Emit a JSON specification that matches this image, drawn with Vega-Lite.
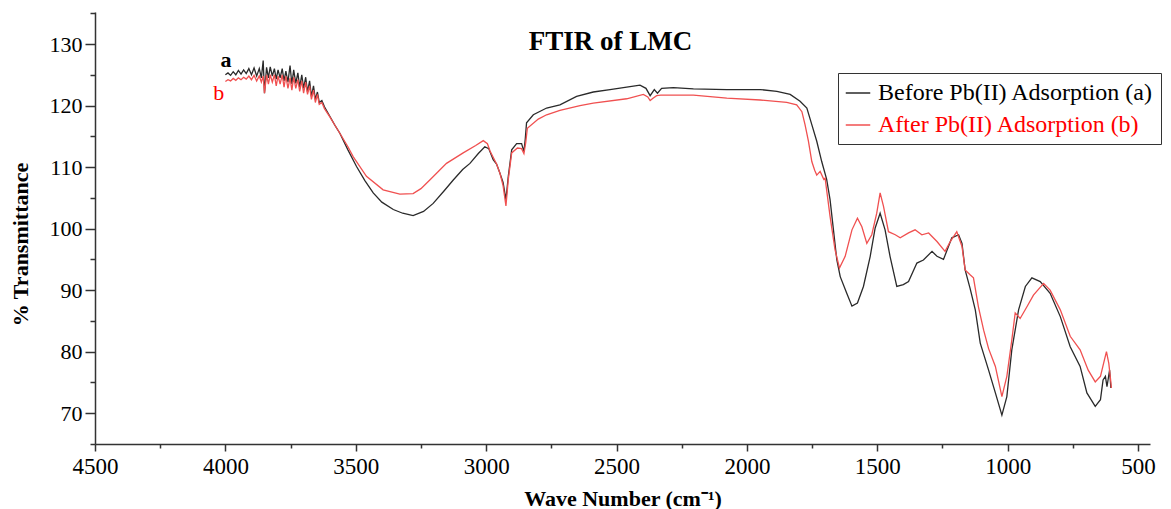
{
  "$schema": "https://vega.github.io/schema/vega-lite/v6.json",
  "width": 1055,
  "height": 432,
  "autosize": {"type": "none"},
  "padding": {"left": 95, "top": 12, "right": 21, "bottom": 65},
  "background": "white",
  "config": {"view": {"stroke": null}, "font": "Liberation Serif"},
  "title": {"text": "FTIR of LMC", "fontSize": 27, "font": "Liberation Serif", "fontWeight": "bold", "color": "black", "offset": -44, "dx": -12},
  "resolve": {"axis": {"x": "independent", "y": "independent"}},
  "datasets": {
    "spectra": [
      {"s":"a","wn":4000,"t":125.0},{"s":"a","wn":3990,"t":125.3},{"s":"a","wn":3980,"t":124.9},{"s":"a","wn":3970,"t":125.5},{"s":"a","wn":3960,"t":125.0},{"s":"a","wn":3950,"t":125.7},{"s":"a","wn":3940,"t":125.1},{"s":"a","wn":3930,"t":125.8},{"s":"a","wn":3920,"t":125.2},{"s":"a","wn":3910,"t":126.0},{"s":"a","wn":3900,"t":125.0},{"s":"a","wn":3890,"t":126.1},{"s":"a","wn":3880,"t":124.8},{"s":"a","wn":3870,"t":126.0},{"s":"a","wn":3862,"t":124.5},{"s":"a","wn":3855,"t":127.3},{"s":"a","wn":3850,"t":122.0},{"s":"a","wn":3842,"t":126.2},{"s":"a","wn":3835,"t":124.5},{"s":"a","wn":3828,"t":126.3},{"s":"a","wn":3820,"t":124.8},{"s":"a","wn":3812,"t":126.0},{"s":"a","wn":3805,"t":124.3},{"s":"a","wn":3798,"t":125.8},{"s":"a","wn":3790,"t":124.5},{"s":"a","wn":3782,"t":126.0},{"s":"a","wn":3775,"t":124.0},{"s":"a","wn":3768,"t":125.6},{"s":"a","wn":3760,"t":123.8},{"s":"a","wn":3752,"t":126.5},{"s":"a","wn":3745,"t":123.5},{"s":"a","wn":3738,"t":125.8},{"s":"a","wn":3730,"t":123.6},{"s":"a","wn":3722,"t":125.3},{"s":"a","wn":3715,"t":123.0},{"s":"a","wn":3707,"t":125.0},{"s":"a","wn":3700,"t":122.8},{"s":"a","wn":3692,"t":124.6},{"s":"a","wn":3685,"t":122.2},{"s":"a","wn":3677,"t":124.0},{"s":"a","wn":3670,"t":121.5},{"s":"a","wn":3662,"t":123.2},{"s":"a","wn":3655,"t":121.0},{"s":"a","wn":3647,"t":122.2},{"s":"a","wn":3640,"t":120.5},{"s":"a","wn":3630,"t":120.8},{"s":"a","wn":3620,"t":119.8},{"s":"a","wn":3600,"t":118.3},{"s":"a","wn":3580,"t":116.8},{"s":"a","wn":3561,"t":115.5},{"s":"a","wn":3530,"t":112.8},{"s":"a","wn":3497,"t":110.1},{"s":"a","wn":3465,"t":107.8},{"s":"a","wn":3433,"t":105.8},{"s":"a","wn":3400,"t":104.3},{"s":"a","wn":3356,"t":103.1},{"s":"a","wn":3320,"t":102.5},{"s":"a","wn":3280,"t":102.1},{"s":"a","wn":3240,"t":102.8},{"s":"a","wn":3203,"t":104.1},{"s":"a","wn":3160,"t":106.2},{"s":"a","wn":3126,"t":107.9},{"s":"a","wn":3090,"t":109.6},{"s":"a","wn":3062,"t":110.6},{"s":"a","wn":3030,"t":112.2},{"s":"a","wn":3005,"t":113.3},{"s":"a","wn":2990,"t":113.0},{"s":"a","wn":2973,"t":111.2},{"s":"a","wn":2960,"t":110.5},{"s":"a","wn":2947,"t":109.0},{"s":"a","wn":2935,"t":107.5},{"s":"a","wn":2924,"t":104.7},{"s":"a","wn":2915,"t":108.5},{"s":"a","wn":2902,"t":112.8},{"s":"a","wn":2883,"t":113.8},{"s":"a","wn":2864,"t":113.8},{"s":"a","wn":2855,"t":112.5},{"s":"a","wn":2850,"t":114.5},{"s":"a","wn":2845,"t":117.2},{"s":"a","wn":2819,"t":118.5},{"s":"a","wn":2768,"t":119.6},{"s":"a","wn":2717,"t":120.1},{"s":"a","wn":2653,"t":121.5},{"s":"a","wn":2589,"t":122.2},{"s":"a","wn":2525,"t":122.6},{"s":"a","wn":2461,"t":123.0},{"s":"a","wn":2410,"t":123.3},{"s":"a","wn":2387,"t":122.8},{"s":"a","wn":2371,"t":121.6},{"s":"a","wn":2355,"t":122.6},{"s":"a","wn":2343,"t":122.0},{"s":"a","wn":2327,"t":122.8},{"s":"a","wn":2282,"t":122.9},{"s":"a","wn":2205,"t":122.7},{"s":"a","wn":2077,"t":122.6},{"s":"a","wn":1949,"t":122.6},{"s":"a","wn":1885,"t":122.3},{"s":"a","wn":1834,"t":121.8},{"s":"a","wn":1796,"t":120.7},{"s":"a","wn":1770,"t":119.6},{"s":"a","wn":1751,"t":116.9},{"s":"a","wn":1732,"t":114.2},{"s":"a","wn":1713,"t":110.9},{"s":"a","wn":1694,"t":108.0},{"s":"a","wn":1681,"t":104.7},{"s":"a","wn":1668,"t":99.8},{"s":"a","wn":1655,"t":94.9},{"s":"a","wn":1642,"t":92.2},{"s":"a","wn":1617,"t":89.5},{"s":"a","wn":1597,"t":87.4},{"s":"a","wn":1576,"t":87.9},{"s":"a","wn":1553,"t":90.6},{"s":"a","wn":1527,"t":95.5},{"s":"a","wn":1508,"t":100.1},{"s":"a","wn":1489,"t":102.5},{"s":"a","wn":1470,"t":99.8},{"s":"a","wn":1451,"t":95.5},{"s":"a","wn":1425,"t":90.6},{"s":"a","wn":1400,"t":90.9},{"s":"a","wn":1380,"t":91.4},{"s":"a","wn":1348,"t":94.4},{"s":"a","wn":1323,"t":94.9},{"s":"a","wn":1290,"t":96.3},{"s":"a","wn":1271,"t":95.5},{"s":"a","wn":1246,"t":95.0},{"s":"a","wn":1214,"t":98.5},{"s":"a","wn":1188,"t":99.0},{"s":"a","wn":1175,"t":97.6},{"s":"a","wn":1163,"t":93.3},{"s":"a","wn":1144,"t":90.3},{"s":"a","wn":1124,"t":86.8},{"s":"a","wn":1105,"t":81.4},{"s":"a","wn":1073,"t":77.0},{"s":"a","wn":1047,"t":73.3},{"s":"a","wn":1022,"t":69.7},{"s":"a","wn":1003,"t":72.7},{"s":"a","wn":984,"t":80.3},{"s":"a","wn":958,"t":86.8},{"s":"a","wn":932,"t":90.6},{"s":"a","wn":907,"t":92.0},{"s":"a","wn":875,"t":91.4},{"s":"a","wn":837,"t":89.5},{"s":"a","wn":798,"t":85.7},{"s":"a","wn":760,"t":80.8},{"s":"a","wn":722,"t":77.6},{"s":"a","wn":696,"t":73.3},{"s":"a","wn":664,"t":71.1},{"s":"a","wn":644,"t":72.2},{"s":"a","wn":634,"t":75.4},{"s":"a","wn":625,"t":76.0},{"s":"a","wn":619,"t":74.3},{"s":"a","wn":609,"t":77.0},{"s":"a","wn":604,"t":74.1},
      {"s":"b","wn":4000,"t":123.9},{"s":"b","wn":3990,"t":124.2},{"s":"b","wn":3980,"t":124.0},{"s":"b","wn":3970,"t":124.4},{"s":"b","wn":3960,"t":124.1},{"s":"b","wn":3950,"t":124.5},{"s":"b","wn":3940,"t":124.2},{"s":"b","wn":3930,"t":124.6},{"s":"b","wn":3920,"t":124.3},{"s":"b","wn":3910,"t":124.8},{"s":"b","wn":3900,"t":124.2},{"s":"b","wn":3890,"t":124.9},{"s":"b","wn":3880,"t":124.0},{"s":"b","wn":3870,"t":124.8},{"s":"b","wn":3862,"t":123.8},{"s":"b","wn":3855,"t":124.8},{"s":"b","wn":3850,"t":122.0},{"s":"b","wn":3842,"t":125.0},{"s":"b","wn":3835,"t":123.5},{"s":"b","wn":3828,"t":125.0},{"s":"b","wn":3820,"t":123.8},{"s":"b","wn":3812,"t":125.0},{"s":"b","wn":3805,"t":123.2},{"s":"b","wn":3798,"t":124.8},{"s":"b","wn":3790,"t":123.5},{"s":"b","wn":3782,"t":125.0},{"s":"b","wn":3775,"t":123.0},{"s":"b","wn":3768,"t":124.8},{"s":"b","wn":3760,"t":122.8},{"s":"b","wn":3752,"t":124.5},{"s":"b","wn":3745,"t":122.5},{"s":"b","wn":3738,"t":124.6},{"s":"b","wn":3730,"t":122.8},{"s":"b","wn":3722,"t":124.2},{"s":"b","wn":3715,"t":122.3},{"s":"b","wn":3707,"t":124.0},{"s":"b","wn":3700,"t":122.0},{"s":"b","wn":3692,"t":123.8},{"s":"b","wn":3685,"t":121.8},{"s":"b","wn":3677,"t":123.2},{"s":"b","wn":3670,"t":121.0},{"s":"b","wn":3662,"t":122.5},{"s":"b","wn":3655,"t":120.5},{"s":"b","wn":3647,"t":121.8},{"s":"b","wn":3640,"t":120.2},{"s":"b","wn":3630,"t":120.5},{"s":"b","wn":3620,"t":119.5},{"s":"b","wn":3600,"t":118.2},{"s":"b","wn":3580,"t":116.8},{"s":"b","wn":3561,"t":115.5},{"s":"b","wn":3530,"t":113.3},{"s":"b","wn":3510,"t":111.7},{"s":"b","wn":3459,"t":108.5},{"s":"b","wn":3395,"t":106.3},{"s":"b","wn":3331,"t":105.6},{"s":"b","wn":3280,"t":105.7},{"s":"b","wn":3250,"t":106.5},{"s":"b","wn":3216,"t":107.9},{"s":"b","wn":3152,"t":110.6},{"s":"b","wn":3088,"t":112.3},{"s":"b","wn":3040,"t":113.5},{"s":"b","wn":3011,"t":114.3},{"s":"b","wn":2995,"t":113.8},{"s":"b","wn":2985,"t":112.6},{"s":"b","wn":2960,"t":110.5},{"s":"b","wn":2947,"t":109.0},{"s":"b","wn":2935,"t":107.0},{"s":"b","wn":2924,"t":103.7},{"s":"b","wn":2915,"t":108.0},{"s":"b","wn":2902,"t":112.3},{"s":"b","wn":2880,"t":113.1},{"s":"b","wn":2864,"t":113.0},{"s":"b","wn":2855,"t":112.2},{"s":"b","wn":2848,"t":114.0},{"s":"b","wn":2842,"t":116.3},{"s":"b","wn":2800,"t":117.8},{"s":"b","wn":2768,"t":118.5},{"s":"b","wn":2717,"t":119.2},{"s":"b","wn":2640,"t":120.0},{"s":"b","wn":2589,"t":120.4},{"s":"b","wn":2461,"t":121.1},{"s":"b","wn":2397,"t":121.8},{"s":"b","wn":2380,"t":121.4},{"s":"b","wn":2371,"t":120.8},{"s":"b","wn":2360,"t":121.2},{"s":"b","wn":2346,"t":121.6},{"s":"b","wn":2330,"t":121.7},{"s":"b","wn":2205,"t":121.7},{"s":"b","wn":2077,"t":121.2},{"s":"b","wn":1949,"t":120.9},{"s":"b","wn":1847,"t":120.5},{"s":"b","wn":1809,"t":120.1},{"s":"b","wn":1789,"t":119.0},{"s":"b","wn":1777,"t":116.9},{"s":"b","wn":1764,"t":114.2},{"s":"b","wn":1751,"t":110.9},{"s":"b","wn":1740,"t":109.5},{"s":"b","wn":1732,"t":108.7},{"s":"b","wn":1719,"t":109.3},{"s":"b","wn":1705,"t":108.0},{"s":"b","wn":1700,"t":108.2},{"s":"b","wn":1681,"t":102.0},{"s":"b","wn":1662,"t":96.6},{"s":"b","wn":1645,"t":93.6},{"s":"b","wn":1623,"t":95.5},{"s":"b","wn":1597,"t":99.8},{"s":"b","wn":1576,"t":101.7},{"s":"b","wn":1559,"t":100.3},{"s":"b","wn":1540,"t":97.6},{"s":"b","wn":1521,"t":99.0},{"s":"b","wn":1502,"t":102.5},{"s":"b","wn":1489,"t":105.8},{"s":"b","wn":1476,"t":103.6},{"s":"b","wn":1457,"t":99.5},{"s":"b","wn":1431,"t":99.0},{"s":"b","wn":1412,"t":98.5},{"s":"b","wn":1380,"t":99.3},{"s":"b","wn":1355,"t":99.8},{"s":"b","wn":1329,"t":99.0},{"s":"b","wn":1303,"t":99.3},{"s":"b","wn":1271,"t":97.9},{"s":"b","wn":1240,"t":96.3},{"s":"b","wn":1220,"t":97.9},{"s":"b","wn":1195,"t":99.5},{"s":"b","wn":1175,"t":97.1},{"s":"b","wn":1163,"t":93.3},{"s":"b","wn":1144,"t":92.5},{"s":"b","wn":1131,"t":92.0},{"s":"b","wn":1112,"t":87.3},{"s":"b","wn":1092,"t":83.5},{"s":"b","wn":1073,"t":80.5},{"s":"b","wn":1047,"t":77.6},{"s":"b","wn":1022,"t":72.7},{"s":"b","wn":1003,"t":76.0},{"s":"b","wn":984,"t":81.9},{"s":"b","wn":971,"t":86.3},{"s":"b","wn":952,"t":85.4},{"s":"b","wn":926,"t":87.3},{"s":"b","wn":901,"t":89.2},{"s":"b","wn":862,"t":91.1},{"s":"b","wn":837,"t":90.0},{"s":"b","wn":798,"t":86.8},{"s":"b","wn":760,"t":82.5},{"s":"b","wn":722,"t":80.3},{"s":"b","wn":691,"t":77.0},{"s":"b","wn":664,"t":75.1},{"s":"b","wn":644,"t":76.0},{"s":"b","wn":632,"t":78.1},{"s":"b","wn":621,"t":80.0},{"s":"b","wn":612,"t":78.1},{"s":"b","wn":605,"t":75.4},{"s":"b","wn":602,"t":74.1}
    ],
    "labels": [
      {"label": "a", "wn": 3998, "t": 127.4},
      {"label": "b", "wn": 4025, "t": 122.0}
    ]
  },
  "layer": [
    {
      "data": {"name": "spectra"},
      "mark": {"type": "line", "strokeWidth": 1.3},
      "encoding": {
        "x": {
          "field": "wn", "type": "quantitative",
          "scale": {"domain": [454, 4500], "reverse": true, "nice": false, "zero": false},
          "axis": {
            "orient": "bottom",
            "values": [4500,4000,3500,3000,2500,2000,1500,1000,500],
            "format": "d",
            "tickSize": 7,
            "grid": false,
            "domainColor": "#333333", "domainWidth": 1.5,
            "tickColor": "#333333", "tickWidth": 1.5,
            "labelFont": "Liberation Serif", "labelFontSize": 23, "labelColor": "black",
            "labelPadding": 4, "labelFlush": false, "labelOverlap": false,
            "title": "Wave Number (cm⁻¹)",
            "titleFont": "Liberation Serif", "titleFontSize": 22, "titleFontWeight": "bold", "titleColor": "black",
            "titlePadding": 10
          }
        },
        "y": {
          "field": "t", "type": "quantitative",
          "scale": {"domain": [65, 135.2], "nice": false, "zero": false},
          "axis": {
            "orient": "left",
            "values": [70,80,90,100,110,120,130],
            "format": "d",
            "tickSize": 10,
            "grid": false,
            "domainColor": "#333333", "domainWidth": 1.5,
            "tickColor": "#333333", "tickWidth": 1.5,
            "labelFont": "Liberation Serif", "labelFontSize": 22, "labelColor": "black",
            "labelPadding": 3, "labelFlush": false, "labelOverlap": false,
            "title": "% Transmittance",
            "titleFont": "Liberation Serif", "titleFontSize": 22, "titleFontWeight": "bold", "titleColor": "black",
            "titleX": -75, "titleY": 232, "titleAngle": -90, "titleAlign": "center", "titleBaseline": "middle"
          }
        },
        "color": {
          "field": "s", "type": "nominal",
          "scale": {"domain": ["a", "b"], "range": ["#2a2a2a", "#f05050"]},
          "legend": {
            "orient": "none", "legendX": 743, "legendY": 61,
            "title": null,
            "labelExpr": "datum.value === 'a' ? 'Before Pb(II) Adsorption (a)' : 'After Pb(II) Adsorption (b)'",
            "symbolType": "stroke", "symbolStrokeWidth": 1.5, "symbolSize": 600,
            "labelFont": "Liberation Serif", "labelFontSize": 24, "labelLimit": 500, "labelOffset": 7,
            "strokeColor": "#333333", "fillColor": "white", "padding": 7, "rowPadding": 7,
            "encode": {"labels": {"update": {"fill": {"signal": "datum.value === 'a' ? '#000000' : '#ff0000'"}, "fontSize": {"value": 24}, "font": {"value": "Liberation Serif"}}}}
          }
        }
      }
    },
    {
      "data": {"name": "labels"},
      "transform": [{"filter": {"field": "label", "equal": "a"}}],
      "mark": {"type": "text", "font": "Liberation Serif", "fontSize": 22, "fontWeight": "bold", "color": "black"},
      "encoding": {
        "x": {"field": "wn", "type": "quantitative", "axis": null},
        "y": {
          "field": "t", "type": "quantitative",
          "axis": {
            "orient": "left",
            "values": [65,75,85,95,105,115,125,135],
            "labels": false, "domain": false, "grid": false, "title": null,
            "tickSize": 5, "tickColor": "#333333", "tickWidth": 1.5
          }
        },
        "text": {"field": "label"}
      }
    },
    {
      "data": {"name": "labels"},
      "transform": [{"filter": {"field": "label", "equal": "b"}}],
      "mark": {"type": "text", "font": "Liberation Serif", "fontSize": 22, "color": "#ff0000"},
      "encoding": {
        "x": {
          "field": "wn", "type": "quantitative",
          "axis": {
            "orient": "bottom",
            "values": [4250,3750,3250,2750,2250,1750,1250,750],
            "labels": false, "domain": false, "grid": false, "title": null,
            "tickSize": 4, "tickColor": "#333333", "tickWidth": 1.5
          }
        },
        "y": {"field": "t", "type": "quantitative", "axis": null},
        "text": {"field": "label"}
      }
    }
  ]
}
